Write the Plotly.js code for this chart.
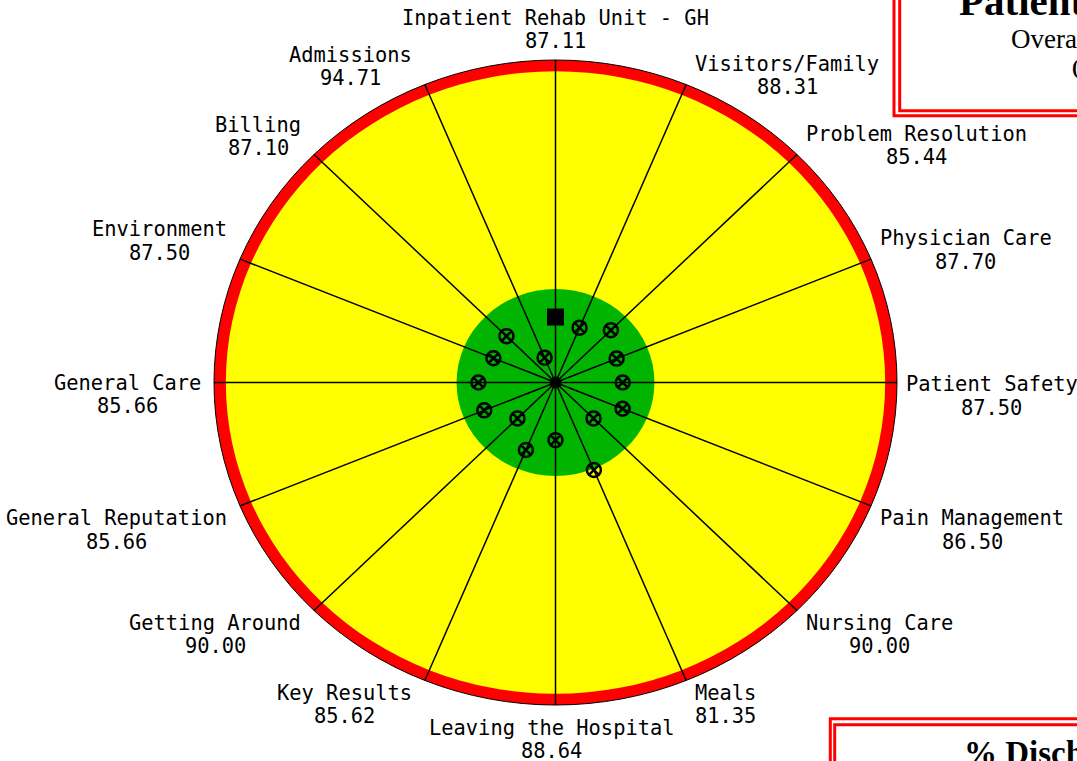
<!DOCTYPE html>
<html>
<head>
<meta charset="utf-8">
<script src="https://cdn.plot.ly/plotly-3.0.1.min.js"></script>
<style>
  body { margin: 0; background: #fff; }
  #radar { width: 1077px; height: 761px; }
</style>
</head>
<body>
<div id="radar"></div>
<script>
//////////////////////////////////////////////////////////
// Patient satisfaction "target" chart
//////////////////////////////////////////////////////////

// categories, clockwise starting from the top spoke
var categories = ["Inpatient Rehab Unit - GH", "Visitors/Family", "Problem Resolution",
  "Physician Care", "Patient Safety", "Pain Management", "Nursing Care", "Meals",
  "Leaving the Hospital", "Key Results", "Getting Around", "General Reputation",
  "General Care", "Environment", "Billing", "Admissions"];
var scores = [87.11, 88.31, 85.44, 87.70, 87.50, 86.50, 90.00, 81.35,
  88.64, 85.62, 90.00, 85.66, 85.66, 87.50, 87.10, 94.71];
var scoreLabels = scores.map(s => s.toFixed(2));

// scale: 100 sits in the middle, the outer rim is the low end
var scaleTop = 100;
var scaleRim = 36.5;
// colour bands (score where each band stops)
var bandGreen = 81.6;
var bandRed = 38.7;

// page geometry
var W = 1077, H = 761;
var cx = 555.5, cy = 382.5;      // centre of the target, px
var rimPx = 341.5, rimPy = 322.5; // half-axes of the rim, px

var R = scaleTop - scaleRim;
var ux = rimPx / R, uy = rimPy / R;

// spoke angle in degrees, 16 spokes, clockwise from 12 o'clock
var step = 360 / categories.length;
var angles = categories.map((c, i) => 90 - i * step);

function polar(gap, deg) {
  var a = deg * Math.PI / 180;
  return { x: gap * Math.cos(a), y: gap * Math.sin(a) };
}

// spokes from the centre to the rim
var spokeX = [], spokeY = [];
angles.forEach(function (deg) {
  var p = polar(R, deg);
  spokeX.push(0, p.x, null);
  spokeY.push(0, p.y, null);
});

// score markers, distance from centre = 100 - score
var pts = scores.map((s, i) => polar(scaleTop - s, angles[i]));

var spokes = {
  x: spokeX, y: spokeY, mode: "lines", type: "scatter",
  line: { color: "black", width: 1.5 }, hoverinfo: "skip"
};
var unitMark = {
  x: [pts[0].x], y: [pts[0].y], mode: "markers", type: "scatter",
  marker: { symbol: "square", size: 17, color: "black" }
};
var otherMarks = {
  x: pts.slice(1).map(p => p.x), y: pts.slice(1).map(p => p.y),
  mode: "markers", type: "scatter",
  marker: { symbol: "circle-x-open", size: 14, color: "black", line: { width: 2.5, color: "black" } }
};
var hub = {
  x: [0], y: [0], mode: "markers", type: "scatter",
  marker: { symbol: "circle", size: 12, color: "black" }
};

function disk(gap, fill, lineColor) {
  return {
    type: "circle", xref: "x", yref: "y", layer: "below",
    x0: -gap, x1: gap, y0: -gap, y1: gap,
    fillcolor: fill,
    line: { color: lineColor || fill, width: lineColor ? 1 : 0 }
  };
}

// labels sit just outside the rim
var labelFont = { family: "DejaVu Sans Mono", size: 20.4, color: "black" };
var charW = 0.602 * labelFont.size;
var lineGap = 23.5;

function labelOffset(deg, w) {
  var c = Math.cos(deg * Math.PI / 180), s = Math.sin(deg * Math.PI / 180);
  var dx, dy;
  if (Math.abs(c) < 0.01) {
    dx = s > 0 ? 0 : -4;
    dy = s > 0 ? 30.5 : -34.5;
  } else {
    dx = c > 0 ? 9 + w / 2 : -13 - w / 2;
    if (Math.abs(s) < 0.01) dy = c > 0 ? -13.5 : -12;
    else if (s > 0) dy = c > 0 ? 9 : 18;
    else dy = -24;
  }
  return { dx: dx, dy: dy };
}

var annotations = [];
categories.forEach(function (name, i) {
  var p = polar(R, angles[i]);
  var off = labelOffset(angles[i], name.length * charW);
  annotations.push({ x: p.x, y: p.y, text: name, showarrow: false, font: labelFont,
    xanchor: "center", yanchor: "middle", xshift: off.dx, yshift: off.dy + lineGap / 2 });
  annotations.push({ x: p.x, y: p.y, text: scoreLabels[i], showarrow: false, font: labelFont,
    xanchor: "center", yanchor: "middle", xshift: off.dx, yshift: off.dy - lineGap / 2 });
});

// side panels of the page that overlap the chart picture
function px(x) { return x / W; }
function py(y) { return 1 - y / H; }
var serif = "Liberation Serif, Times New Roman, serif";
function note(text, x, y, size, bold) {
  return { xref: "paper", yref: "paper", x: px(x), y: py(y), xanchor: "left", yanchor: "middle",
    text: bold ? "<b>" + text + "</b>" : text, showarrow: false,
    font: { family: serif, size: size, color: "black" } };
}
annotations.push(note("Patient Satisfaction", 957, 1, 41, true));
annotations.push(note("Overall Score", 1009, 39, 27, false));
annotations.push(note("(Goal)", 1070, 67, 21, true));
annotations.push(note("% Discharged", 962, 753, 33, true));

function frame(x, y, top) {
  return { type: "rect", xref: "paper", yref: "paper", layer: "above",
    x0: px(x), x1: 1.2, y0: top ? py(y) : -0.2, y1: top ? 1.2 : py(y),
    line: { color: "#ff0000", width: 3 }, fillcolor: "rgba(0,0,0,0)" };
}

var shapes = [
  disk(R, "#ff0000", "black"),
  disk(scaleTop - bandRed, "#ffff00"),
  disk(scaleTop - bandGreen, "rgb(0,180,0)"),
  frame(894, 115.8, true),
  frame(899.7, 110.8, true),
  frame(830.3, 718.7, false),
  frame(834.7, 724.7, false)
];

var data = [spokes, otherMarks, unitMark, hub];
var layout = {
  width: W, height: H, autosize: false,
  margin: { l: 0, r: 0, t: 0, b: 0, pad: 0 },
  paper_bgcolor: "white", plot_bgcolor: "white",
  showlegend: false, hovermode: false,
  xaxis: { range: [-cx / ux, (W - cx) / ux], visible: false },
  yaxis: { range: [-(H - cy) / uy, cy / uy], visible: false },
  shapes: shapes,
  annotations: annotations
};
Plotly.newPlot("radar", data, layout, { staticPlot: true });
</script>
</body>
</html>
